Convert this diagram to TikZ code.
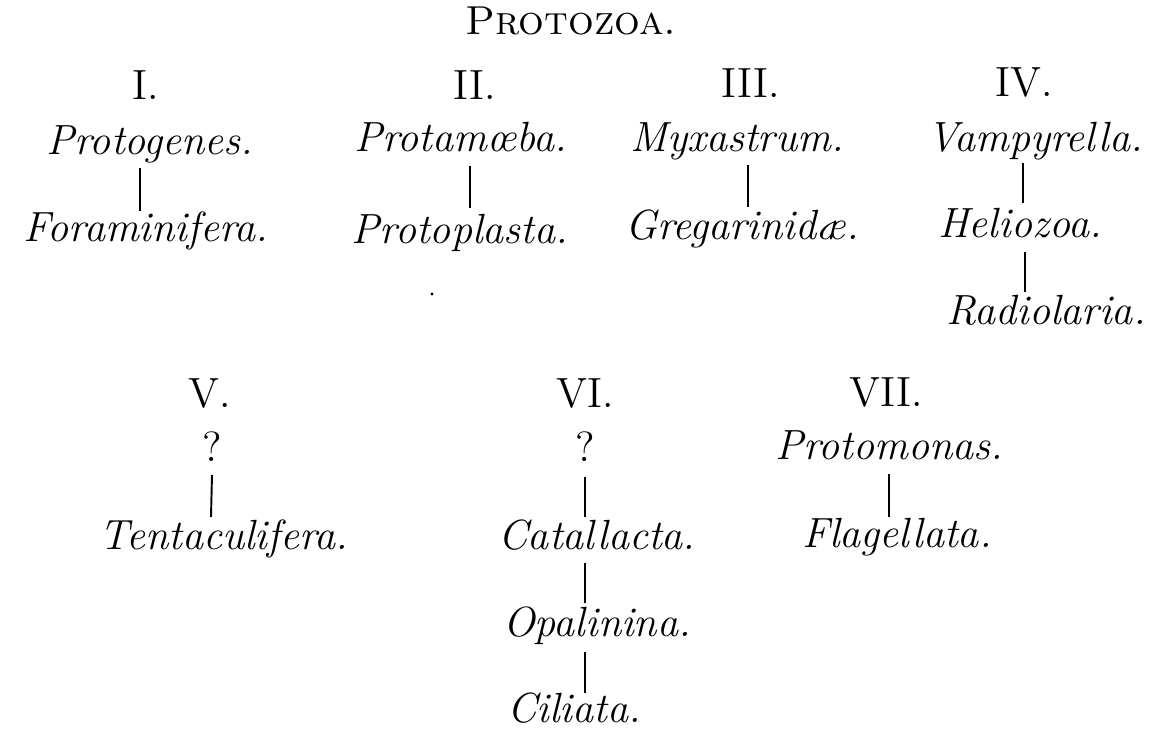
\documentclass[tikz,border=0pt]{standalone}
\usetikzlibrary{calc}
\begin{document}
\begin{tikzpicture}[x=0.01cm,y=-0.01cm,
  lbl/.style={anchor=base,inner sep=0pt,font=\fontsize{12}{14}\selectfont},
  nm/.style={anchor=base,inner sep=0pt,font=\fontsize{12}{14}\selectfont\itshape},
  ttl/.style={anchor=base,inner sep=0pt,font=\fontsize{11.5}{14}\selectfont\scshape},
  link/.style={line width=0.55pt,black}]
\fill[white] (0,0) rectangle (1163,731);
\useasboundingbox (0,0) rectangle (1163,731);

\node[ttl] (title) at (571,35) {Protozoa.};

% Row 1
\node[lbl] (n1) at (146,100) {I.};
\node[nm] (a1) at (150,155) {Protogenes.};
\node[nm] (a2) at (146,242) {Foraminifera.};

\node[lbl] (n2) at (475,100) {II.};
\node[nm] (b1) at (461,152) {Protam\oe ba.};
\node[nm] (b2) at (460,244) {Protoplasta.};

\node[lbl] (n3) at (751,98) {III.};
\node[nm] (c1) at (737,152) {Myxastrum.};
\node[nm] (c2) at (742,240) {Gregarinid\ae.};

\node[lbl] (n4) at (1024,97) {IV.};
\node[nm] (d1) at (1035,152) {Vampyrella.};
\node[nm] (d2) at (1020,238) {Heliozoa.};
\node[nm] (d3) at (1046,325) {Radiolaria.};

% Row 2
\node[lbl] (n5) at (210,408) {V.};
\node[lbl] (e1) at (212,462) {?};
\node[nm] (e2) at (224,550) {Tentaculifera.};

\node[lbl] (n6) at (585,408) {VI.};
\node[lbl] (f1) at (585,462) {?};
\node[nm] (f2) at (597,550) {Catallacta.};
\node[nm] (f3) at (597,637) {Opalinina.};
\node[nm] (f4) at (574,723) {Ciliata.};

\node[lbl] (n7) at (886,407) {VII.};
\node[nm] (g1) at (889,460) {Protomonas.};
\node[nm] (g2) at (897,548) {Flagellata.};

% stray dot
\coordinate (dot) at (432,294);
\fill (dot) circle (1.6);

% connectors
\draw[link] ($(a1.base)+(-10,13)$) -- ($(a2.base)+(-6,-31)$);
\draw[link] ($(b1.base)+(9,14)$) -- ($(b2.base)+(10,-36)$);
\draw[link] ($(c1.base)+(11,13)$) -- ($(c2.base)+(6,-33)$);
\draw[link] ($(d1.base)+(-12,11)$) -- ($(d2.base)+(3,-35)$);
\draw[link] ($(d2.base)+(5,14)$) -- ($(d3.base)+(-21,-33)$);
\draw[link] ($(e1.base)+(0,13)$) -- ($(e2.base)+(-13,-33)$);
\draw[link] ($(f1.base)+(0,15)$) -- ($(f2.base)+(-12,-33)$);
\draw[link] ($(f2.base)+(-12,13)$) -- ($(f3.base)+(-12,-34)$);
\draw[link] ($(f3.base)+(-12,15)$) -- ($(f4.base)+(11,-30)$);
\draw[link] ($(g1.base)+(0,14)$) -- ($(g2.base)+(-8,-31)$);
\end{tikzpicture}
\end{document}
